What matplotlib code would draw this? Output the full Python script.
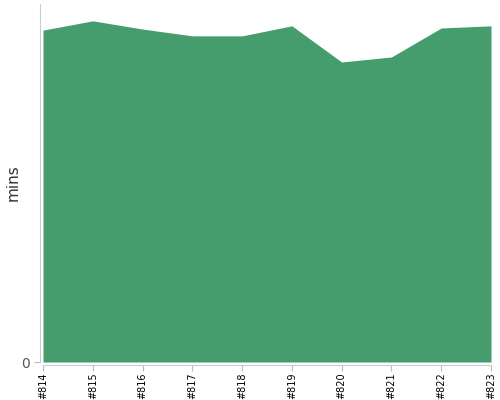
import matplotlib
matplotlib.use("Agg")
import matplotlib.pyplot as plt

builds = ["#814", "#815", "#816", "#817", "#818", "#819", "#820", "#821", "#822", "#823"]
mins = [92.7, 95.3, 93.0, 91.1, 91.1, 93.9, 83.8, 85.2, 93.3, 93.9]

fig = plt.figure(figsize=(5, 4), dpi=100)
ax = fig.add_axes([0.086, 0.095, 0.896, 0.895])
x = list(range(len(builds)))
ax.fill_between(x, 0, mins, color="#459c6c", linewidth=0)
ax.set_xlim(0, len(builds) - 1)
ax.set_ylim(0, 100)
ax.set_xticks(x)
ax.set_xticklabels(builds)
ax.set_yticks([0])
ax.set_yticklabels(["0"])
ax.set_ylabel("mins", fontsize=11, color="#333333", va="center")
ax.yaxis.set_label_coords(-0.067, 0.5)
for s in ["top", "right"]:
    ax.spines[s].set_visible(False)
for s in ["left", "bottom"]:
    ax.spines[s].set_color("#cccccc")
    ax.spines[s].set_position(("outward", 2.2))
ax.tick_params(axis="both", colors="#bbbbbb", length=4, width=0.8)
ax.tick_params(axis="x", labelrotation=90, labelcolor="black", labelsize=7, pad=1.5)
ax.tick_params(axis="y", labelcolor="#555555", labelsize=10, pad=3)
fig.savefig("out.png", dpi=100)
